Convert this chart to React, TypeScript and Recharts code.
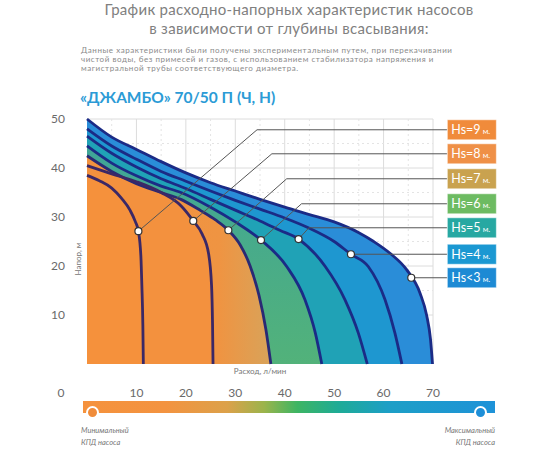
import {
  Area,
  CartesianGrid,
  ComposedChart,
  Line,
  ReferenceDot,
  ReferenceLine,
  XAxis,
  YAxis,
} from "recharts"

// Q-H curves, flow in l/min (x) against head in m (y), one per suction depth
const hs9 = [
  { x: 0, y: 38.5 }, { x: 2.5, y: 37.4 }, { x: 5, y: 35.9 }, { x: 7, y: 33.8 },
  { x: 8.7, y: 31.4 }, { x: 9.8, y: 29 }, { x: 10.4, y: 27.1 }, { x: 10.9, y: 22 },
  { x: 11.1, y: 16 }, { x: 11.3, y: 8 }, { x: 11.4, y: 0 },
]
const hs8 = [
  { x: 0, y: 40.5 }, { x: 5, y: 38.8 }, { x: 10, y: 37.2 }, { x: 15, y: 35 },
  { x: 19, y: 32.3 }, { x: 21.5, y: 29.2 }, { x: 23.3, y: 26.5 }, { x: 24.6, y: 22.5 },
  { x: 25.2, y: 16 }, { x: 25.4, y: 8 }, { x: 25.5, y: 0 },
]
const hs7 = [
  { x: 0, y: 42.5 }, { x: 5, y: 39.3 }, { x: 10, y: 36.8 }, { x: 15, y: 35 },
  { x: 19, y: 33.6 }, { x: 23, y: 31.3 }, { x: 26, y: 29.4 }, { x: 28.6, y: 27.3 },
  { x: 31, y: 24.3 }, { x: 33, y: 20 }, { x: 34.8, y: 14 }, { x: 36.2, y: 7 }, { x: 37.2, y: 0 },
]
const hs6 = [
  { x: 0, y: 44.5 }, { x: 5, y: 41 }, { x: 10, y: 38.4 }, { x: 15, y: 36.3 },
  { x: 19, y: 35 }, { x: 25, y: 32 }, { x: 30, y: 29 }, { x: 35.2, y: 25.3 },
  { x: 40.4, y: 19.9 }, { x: 44.1, y: 13.1 }, { x: 46.2, y: 6.3 }, { x: 47.5, y: 0 },
]
const hs5 = [
  { x: 0, y: 46.5 }, { x: 5, y: 43 }, { x: 10, y: 40.2 }, { x: 15, y: 37.8 },
  { x: 20, y: 35.8 }, { x: 25, y: 33.6 }, { x: 30, y: 31.4 }, { x: 35, y: 29.2 },
  { x: 39, y: 27.3 }, { x: 42.8, y: 25.5 }, { x: 48.2, y: 19.9 }, { x: 52.2, y: 13.1 },
  { x: 54.9, y: 6.3 }, { x: 56.7, y: 0 },
]
const hs4 = [
  { x: 0, y: 48 }, { x: 5, y: 44.5 }, { x: 10, y: 41.8 }, { x: 15, y: 39.3 },
  { x: 20, y: 37.3 }, { x: 25, y: 35.3 }, { x: 30, y: 33.4 }, { x: 35, y: 31.6 },
  { x: 40, y: 29.8 }, { x: 45, y: 27.7 }, { x: 50, y: 25 }, { x: 53.4, y: 22.4 },
  { x: 56.9, y: 19.9 }, { x: 60.3, y: 13.1 }, { x: 62.3, y: 6.3 }, { x: 63.7, y: 0 },
]
const hs3 = [
  { x: 0, y: 50 }, { x: 5, y: 46.3 }, { x: 10, y: 43.8 }, { x: 15, y: 41.3 },
  { x: 20, y: 39 }, { x: 25, y: 37 }, { x: 30, y: 35.3 }, { x: 35, y: 33.6 },
  { x: 40, y: 32 }, { x: 45, y: 30.5 }, { x: 50, y: 29 }, { x: 55, y: 26.8 },
  { x: 58, y: 25 }, { x: 61.3, y: 22.6 }, { x: 64.7, y: 19.2 }, { x: 67.4, y: 14.4 },
  { x: 68.7, y: 10 }, { x: 69.5, y: 5 }, { x: 69.9, y: 0 },
]

// order: Hs=9 first, Hs<3 last
const seriesNames = ["Hs=9", "Hs=8", "Hs=7", "Hs=6", "Hs=5", "Hs=4", "Hs<3"]
const seriesData = [hs9, hs8, hs7, hs6, hs5, hs4, hs3]
const markerFlow = [10.4, 21.5, 28.6, 35.2, 42.8, 53.4, 65.6]
const markerHead = [27.1, 29.2, 27.3, 25.3, 25.5, 22.4, 17.6]
const leaderBendFlow = [34.4, 37.4, 40.4, 43.4, 44.9, 53.4, 65.6]
const labelHead = [47.8, 42.9, 37.8, 32.7, 27.8, 22.4, 17.6]

const xTicks = [0, 10, 20, 30, 40, 50, 60, 70]
const yTicks = [10, 20, 30, 40, 50]
const gridMajorX = [10, 20, 30, 40, 50, 60, 70]
const gridMajorY = [10, 20, 30, 40, 50]
const gridMinorX = [5, 15, 25, 35, 45, 55, 65]
const gridMinorY = [5, 15, 25, 35, 45]

// styles
const areaFills = ["#f5913c", "#f3913e", "url(#band7)", "url(#band6)", "#20a2b6", "#1e97d0", "#2a8dd8"]
const curveStrokes = ["#3b2866", "#3b2866", "#2a2a74", "#1b2b86", "#1b2b86", "#1b2b86", "#1b2b86"]
const boxFills = ["#f08b3b", "#ef9047", "#c9a24f", "#6dbb62", "#27a8a2", "#1b98d2", "#1d8ad4"]
const LABEL_X = 72.9
const grey = "#777"

const CHART_W = 550
const CHART_H = 450

function LabelBox({ cx, cy, fill, text }: { cx?: number; cy?: number; fill: string; text: string }) {
  if (cx == null || cy == null) return null
  return (
    <g>
      <rect x={cx} y={cy - 10} width={49} height={20} fill={fill} stroke="#ffffff" strokeOpacity={0.5} />
      <text x={cx + 4} y={cy + 4.5} fill="#fff" fontSize={12.5} fontFamily="Lato, 'Open Sans', sans-serif">
        {text}
        <tspan fontSize={8}> м.</tspan>
      </text>
    </g>
  )
}

const XTick = ({ x, y, payload }: any) => (
  <text
    x={x + (payload.value === 0 ? -26 : 0)}
    y={y}
    dy="0.71em"
    textAnchor="middle"
    fill="#6a6a6a"
    fontSize={12}
    fontFamily="Lato, 'Open Sans', sans-serif"
  >
    {payload.value}
  </text>
)

const YTick = ({ x, y, payload }: any) => (
  <text x={x} y={y} dy="0.35em" textAnchor="end" fill="#6a6a6a" fontSize={12} fontFamily="Lato, 'Open Sans', sans-serif">
    {payload.value}
  </text>
)

export default function App() {
  const order = [6, 5, 4, 3, 2, 1, 0]
  return (
    <div style={{ position: "absolute", left: 0, top: 0, width: CHART_W, height: CHART_H, background: "#fff", fontFamily: "Lato, 'Open Sans', sans-serif", overflow: "hidden" }}>
      <div style={{ position: "absolute", left: 0, top: 0, width: 578, textAlign: "center", color: "#808080", fontSize: 15, lineHeight: "19px", letterSpacing: 0.3 }}>
        График расходно-напорных характеристик насосов
        <br />
        в зависимости от глубины всасывания:
      </div>
      <div style={{ position: "absolute", left: 81, top: 46, width: 420, color: "#8a8a8a", fontSize: 8, lineHeight: "9px", letterSpacing: 0.55, whiteSpace: "nowrap" }}>
        Данные характеристики были получены экспериментальным путем, при перекачивании
        <br />
        чистой воды, без примесей и газов, с использованием стабилизатора напряжения и
        <br />
        магистральной трубы соответствующего диаметра.
      </div>
      <div style={{ position: "absolute", left: 80, top: 88, color: "#2b9bd6", fontSize: 15.5, fontWeight: 700, whiteSpace: "nowrap" }}>
        «ДЖАМБО» 70/50 П (Ч, Н)
      </div>

      <div style={{ position: "absolute", left: 0, top: 0 }}>
        <ComposedChart width={CHART_W} height={CHART_H} margin={{ top: 119, right: 117, bottom: 46, left: 47 }}>
          <defs>
            <linearGradient id="band7" x1="0" y1="0" x2="1" y2="0">
              <stop offset="0%" stopColor="#f2923f" />
              <stop offset="72%" stopColor="#ef9442" />
              <stop offset="100%" stopColor="#d8a35a" />
            </linearGradient>
            <linearGradient id="band6" x1="0" y1="0" x2="0" y2="1">
              <stop offset="0%" stopColor="#3fa598" />
              <stop offset="100%" stopColor="#52b27a" />
            </linearGradient>
          </defs>
          <CartesianGrid stroke="#dcdcdc" horizontalValues={gridMajorY} verticalValues={gridMajorX} />
          <CartesianGrid stroke="#e4e4e4" strokeDasharray="2 3" horizontalValues={gridMinorY} verticalValues={gridMinorX} />
          <XAxis
            type="number"
            dataKey="x"
            domain={[0, 70]}
            ticks={xTicks}
            axisLine={false}
            tickLine={false}
            tickMargin={18}
            height={40}
            tick={<XTick />}
            interval={0}
          />
          <YAxis
            type="number"
            dataKey="y"
            domain={[0, 50]}
            ticks={yTicks}
            axisLine={false}
            tickLine={false}
            tickMargin={16}
            width={40}
            tick={<YTick />}
            interval={0}
          />
          {order.map((i) => (
            <Area
              key={"a" + i}
              data={seriesData[i]}
              dataKey="y"
              type="monotone"
              stroke="none"
              fill={areaFills[i]}
              fillOpacity={1}
              isAnimationActive={false}
              activeDot={false}
            />
          ))}
          {order.map((i) => (
            <Line
              key={"l" + i}
              data={seriesData[i]}
              dataKey="y"
              type="monotone"
              stroke={curveStrokes[i]}
              strokeWidth={2.8}
              dot={false}
              activeDot={false}
              isAnimationActive={false}
            />
          ))}
          {seriesNames.map((name, i) => (
            <ReferenceLine
              key={"d" + name}
              segment={[
                { x: markerFlow[i], y: markerHead[i] },
                { x: leaderBendFlow[i], y: labelHead[i] },
              ]}
              stroke="#555"
              strokeWidth={1}
              ifOverflow="visible"
            />
          ))}
          {seriesNames.map((name, i) => (
            <ReferenceLine
              key={"h" + name}
              segment={[
                { x: leaderBendFlow[i], y: labelHead[i] },
                { x: LABEL_X, y: labelHead[i] },
              ]}
              stroke="#555"
              strokeWidth={1}
              ifOverflow="visible"
            />
          ))}
          {seriesNames.map((name, i) => (
            <ReferenceDot
              key={"m" + name}
              x={markerFlow[i]}
              y={markerHead[i]}
              r={3.5}
              fill="#fff"
              stroke="#333"
              strokeWidth={1.2}
              ifOverflow="visible"
            />
          ))}
          {seriesNames.map((name, i) => (
            <ReferenceDot
              key={"b" + name}
              x={LABEL_X}
              y={labelHead[i]}
              ifOverflow="visible"
              shape={(p: any) => <LabelBox cx={p.cx} cy={p.cy} fill={boxFills[i]} text={name} />}
            />
          ))}
        </ComposedChart>
      </div>

      <div style={{ position: "absolute", left: 230, top: 366, width: 60, textAlign: "center", fontSize: 8, color: grey, whiteSpace: "nowrap" }}>
        Расход, л/мин
      </div>
      <div style={{ position: "absolute", left: 58, top: 254, width: 40, textAlign: "center", fontSize: 8, color: grey, whiteSpace: "nowrap", transform: "rotate(-90deg)" }}>
        Напор, м
      </div>

      <div
        style={{
          position: "absolute",
          left: 83,
          top: 401,
          width: 412,
          height: 12,
          background:
            "linear-gradient(to right, #f5923d 0%, #f39340 20%, #dca14a 35%, #9bb44c 44%, #3db563 52%, #1eab96 62%, #1d9fc6 74%, #1e92d8 100%)",
        }}
      />
      <div style={{ position: "absolute", left: 86, top: 406, width: 9, height: 9, borderRadius: "50%", background: "#f08c3a", border: "2px solid #fff" }} />
      <div style={{ position: "absolute", left: 474, top: 406, width: 9, height: 9, borderRadius: "50%", background: "#1e8fd8", border: "2px solid #fff" }} />
      <div style={{ position: "absolute", left: 81, top: 425, fontSize: 7.5, lineHeight: "12px", color: grey, fontStyle: "italic" }}>
        Минимальный
        <br />
        КПД насоса
      </div>
      <div style={{ position: "absolute", left: 395, top: 425, width: 100, textAlign: "right", fontSize: 7.5, lineHeight: "12px", color: grey, fontStyle: "italic" }}>
        Максимальный
        <br />
        КПД насоса
      </div>
    </div>
  )
}
